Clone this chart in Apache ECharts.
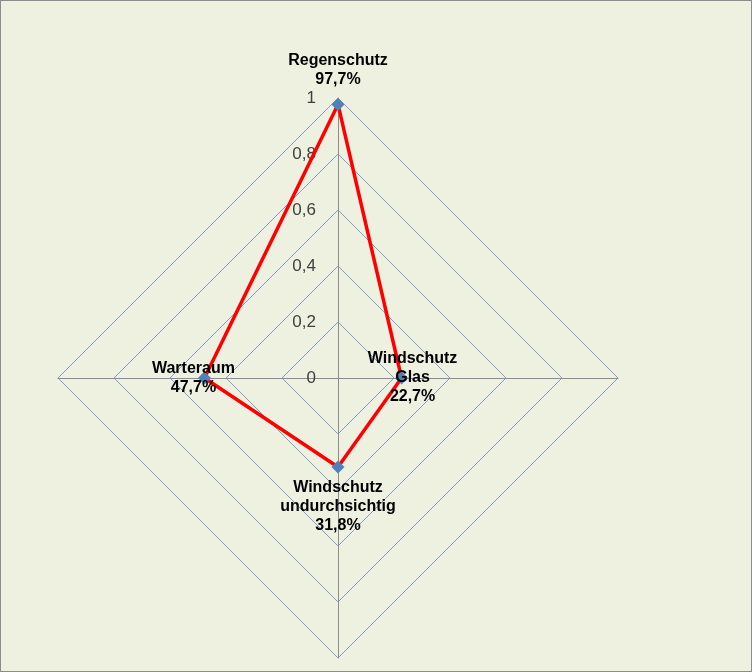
<!DOCTYPE html>
<html>
<head>
<meta charset="utf-8">
<script src="https://cdn.jsdelivr.net/npm/echarts@6/dist/echarts.min.js"></script>
<style>
html,body{margin:0;padding:0;}
#chart{width:750px;height:670px;border:1px solid #8c8c8c;background:#eef0e0;}
</style>
</head>
<body>
<div id="chart"></div>
<script>
// indicator order follows ECharts (counterclockwise from top)
var categories = ['Regenschutz', 'Warteraum', 'Windschutz\nundurchsichtig', 'Windschutz\nGlas'];
var values = [0.977, 0.477, 0.318, 0.227];
var tickLabels = ['0', '0,2', '0,4', '0,6', '0,8', '1'];
var labelPositions = ['top', 'left', 'bottom', 'right'];

var myChart = echarts.init(document.getElementById('chart'));
var font = '"Liberation Sans Narrow", "Liberation Sans", Arial, sans-serif';

function pct(v){
	return (v * 100).toFixed(1).replace('.', ',') + '%';
}

var series = [{
	type: 'radar',
	z: 3,
	symbol: 'diamond',
	symbolSize: 13,
	lineStyle: {color: '#ff0000', width: 3.5},
	itemStyle: {color: '#4f81bd'},
	data: [{value: values}]
}];

// one invisible series per vertex, only to place its label
for (var i = 0; i < categories.length; i++) {
	(function(k){
		series.push({
			type: 'radar',
			z: 4,
			symbol: 'circle',
			symbolSize: 2,
			silent: true,
			lineStyle: {color: 'rgba(0,0,0,0)', width: 0},
			itemStyle: {color: 'rgba(0,0,0,0)', borderWidth: 0},
			label: {
				show: true,
				position: labelPositions[k],
				distance: k === 0 ? 14 : 10,
				align: 'center',
				fontFamily: font,
				fontWeight: 'bold',
				fontSize: 16,
				lineHeight: 19,
				color: '#000',
				formatter: function(p){
					var v = Array.isArray(p.value) ? p.value[p.dimensionIndex] : p.value;
					if (p.dimensionIndex != null && p.dimensionIndex !== k) return '';
					if (p.dimensionIndex == null && Math.abs(v - values[k]) > 1e-9) return '';
					return categories[k] + '\n' + pct(values[k]);
				}
			},
			data: [{value: values}]
		});
	})(i);
}

var option = {
	animation: false,
	radar: {
		center: [337, 377],
		radius: 280,
		startAngle: 90,
		shape: 'polygon',
		splitNumber: 5,
		indicator: categories.map(function(c){ return {name: c, min: 0, max: 1}; }),
		axisName: {show: false},
		axisLine: {lineStyle: {color: '#8c8c8c', width: 1}},
		splitLine: {lineStyle: {color: '#7f9fc8', width: 1}},
		splitArea: {show: false},
		axisTick: {show: false},
		axisLabel: {show: false}
	},
	grid: {left: 337, width: 1, top: 97, height: 280},
	xAxis: {type: 'value', show: false},
	yAxis: {
		type: 'value', min: 0, max: 1, interval: 0.2,
		axisLine: {show: false}, axisTick: {show: false}, splitLine: {show: false},
		axisLabel: {
			margin: 22, fontSize: 17, color: '#404040', fontFamily: font,
			formatter: function(v){ return tickLabels[Math.round(v * 5)]; }
		}
	},
	series: series
};
myChart.setOption(option);
</script>
</body>
</html>
